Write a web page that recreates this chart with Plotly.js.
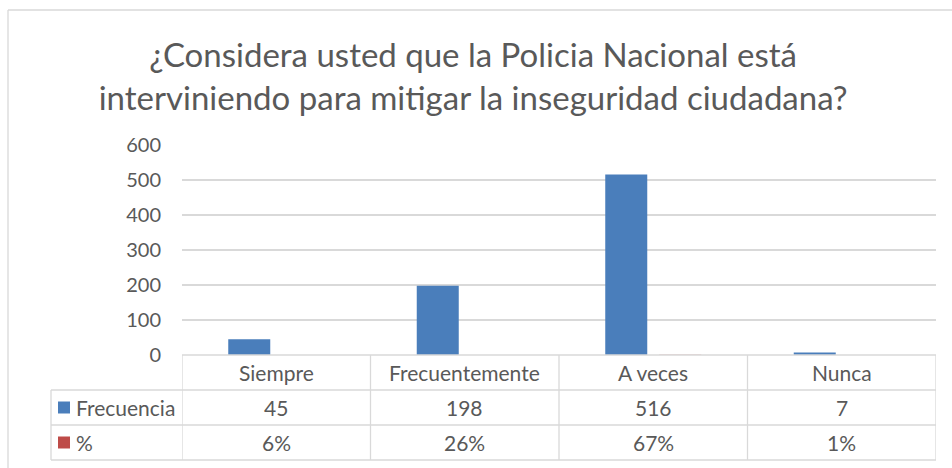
<!DOCTYPE html>
<html>
<head>
<meta charset="utf-8">
<script src="https://cdn.plot.ly/plotly-3.0.1.min.js"></script>
<style>html,body{margin:0;padding:0;background:#fff;}#chart{width:952px;height:468px;}</style>
</head>
<body>
<div id="chart"></div>
<script>
const categories = ['Siempre', 'Frecuentemente', 'A veces', 'Nunca'];
const seriesNames = ['Frecuencia', '%'];
const frecuencia = [45, 198, 516, 7];
const porcentaje = [0.06, 0.26, 0.67, 0.01];
const yTicks = [0, 100, 200, 300, 400, 500, 600];
const titleText = '¿Considera usted que la Policia Nacional está<br>interviniendo para mitigar la inseguridad ciudadana?';

const W = 952, H = 468;
const M = {l: 182, r: 16, t: 145, b: 113};
const PW = W - M.l - M.r, PH = H - M.t - M.b;
const px = x => (x - M.l) / PW;
const py = y => (H - M.b - y) / PH;

const blue = '#4A7EBB';
const red = '#BE4B48';
const grid = '#D9D9D9';
const txt = '#595959';
const FONT = 'Lato, "Liberation Sans", sans-serif';

const bw = 42 / (PW / categories.length);
const traces = [
  {type: 'bar', x: categories, y: frecuencia, name: seriesNames[0],
   marker: {color: blue}, width: bw, offset: -48 / (PW / categories.length), showlegend: false, hoverinfo: 'x+y'},
  {type: 'bar', x: categories, y: porcentaje, name: seriesNames[1],
   marker: {color: red}, width: bw, offset: 6 / (PW / categories.length), showlegend: false, hoverinfo: 'x+y'}
];

const shapes = [];
const line = (x0, y0, x1, y1, xref) => shapes.push({type: 'line', xref: xref || 'paper', yref: 'paper',
  x0: x0, y0: y0, x1: x1, y1: y1, line: {color: grid, width: 1.3}, layer: 'above'});

// outer chart border
line(px(8), py(10), px(W), py(10));
line(px(8), py(10), px(8), py(H));

// data table
const rowY = [355, 390, 425, 460];
const n = categories.length;
line(-0.5, py(rowY[0]), n - 0.5, py(rowY[0]), 'x');
for (let r = 1; r < rowY.length; r++) {
  line(px(51), py(rowY[r]), 1, py(rowY[r]));
}
for (let i = 0; i <= n; i++) {
  line(i - 0.5, py(rowY[0]), i - 0.5, py(rowY[3]), 'x');
}
line(px(51), py(rowY[1]), px(51), py(rowY[3]));

// legend keys
[blue, red].forEach((c, k) => {
  const yc = (rowY[k + 1] + rowY[k + 2]) / 2;
  shapes.push({type: 'rect', xref: 'paper', yref: 'paper', x0: px(58), x1: px(70), y0: py(yc + 6), y1: py(yc - 6),
    fillcolor: c, line: {width: 0}});
});

const annotations = [];
const cell = (x, xref, yc, text, anchor) => annotations.push({xref: xref, yref: 'paper', x: x, y: py(yc),
  text: text, showarrow: false, xanchor: anchor || 'center', yanchor: 'middle',
  font: {family: FONT, size: 21, color: txt}});

categories.forEach((c, i) => {
  cell(c, 'x', (rowY[0] + rowY[1]) / 2, c);
  cell(c, 'x', (rowY[1] + rowY[2]) / 2, String(frecuencia[i]));
  cell(c, 'x', (rowY[2] + rowY[3]) / 2, Math.round(porcentaje[i] * 100) + '%');
});
seriesNames.forEach((s, k) => cell(px(74), 'paper', (rowY[k + 1] + rowY[k + 2]) / 2, s, 'left'));

const layout = {
  width: W, height: H,
  margin: M,
  paper_bgcolor: '#fff', plot_bgcolor: '#fff',
  title: {text: titleText, x: 0.497, xref: 'container', xanchor: 'center',
    y: 1 - 67 / H, yref: 'container', yanchor: 'middle',
    font: {family: FONT, size: 33, color: txt}},
  barmode: 'group',
  xaxis: {type: 'category', range: [-0.5, n - 0.5], showticklabels: false, showgrid: false,
    zeroline: false, showline: false, ticks: ''},
  yaxis: {range: [0, 600], tickvals: yTicks, showgrid: true, gridcolor: grid, gridwidth: 1.3,
    zeroline: false, showline: false, ticks: '', ticklabelstandoff: 20,
    tickfont: {family: FONT, size: 20, color: txt}},
  shapes: shapes,
  annotations: annotations,
  showlegend: false
};

Plotly.newPlot('chart', traces, layout, {displayModeBar: false, staticPlot: true});
</script>
</body>
</html>
